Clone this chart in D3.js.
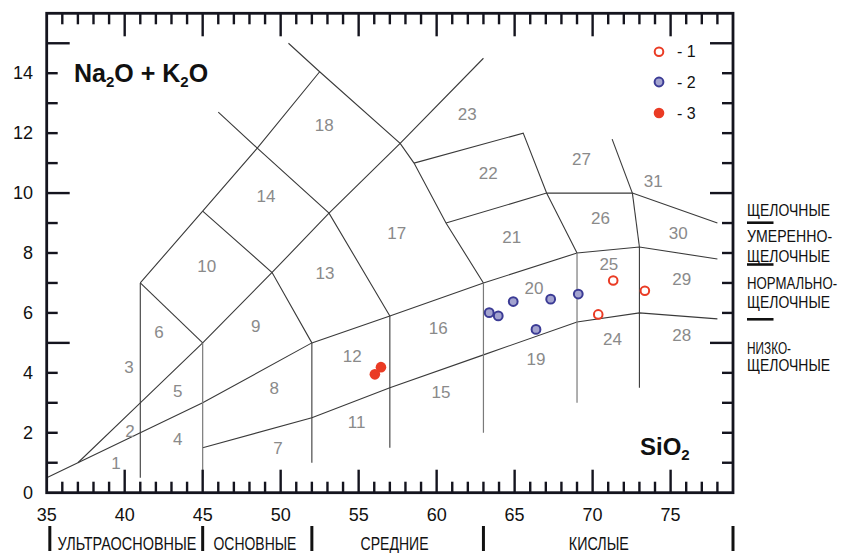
<!DOCTYPE html>
<html><head><meta charset="utf-8">
<script src="https://cdn.jsdelivr.net/npm/d3@7"></script>
<style>
html,body{margin:0;padding:0;background:#fff;}
svg{display:block;font-family:"Liberation Sans",Arial,sans-serif;}
</style></head>
<body><svg id="c" width="844" height="553"></svg>
<script>
// ---------------- data ----------------
const xDomain = [35, 79];
const yDomain = [0, 16];
const xTickLabels = [35, 40, 45, 50, 55, 60, 65, 70, 75];
const yTickLabels = [0, 2, 4, 6, 8, 10, 12, 14];

// classification field boundaries (SiO2, Na2O+K2O)
const boundaries = [
  [[35,0.5],[37,1],[41,2],[45,3],[52,5],[57,5.9],[63,7],[69,8],[73,8.2],[78,7.8]],
  [[37,1],[41,3],[45,5],[49.45,7.35],[53.1,9.33],[57.66,11.66],[63,14.5]],
  [[41,0.5],[41,7]],
  [[41,7],[45,9.4],[48.5,11.5],[52.5,14.05]],
  [[41,7],[45,5]],
  [[45,9.4],[49.45,7.35],[52,5]],
  [[46,12.7],[48.5,11.5],[53.1,9.33],[57,5.9]],
  [[50.5,15],[52.5,14.05],[57.66,11.66],[58.55,11],[60.6,9],[63,7]],
  [[45,1.5],[52,2.5],[57,3.5],[63,4.6],[69,5.7],[73,6],[78,5.8]],
  [[52,1],[52,5]],
  [[57,1.5],[57,5.9]],
  [[73,3.5],[73,8.2]],
  [[58.55,11],[65.55,12],[67.05,10],[69,8]],
  [[60.6,9],[67.05,10],[72.55,10],[78,9]],
  [[72.55,10],[73,8.2]],
  [[71.25,11.8],[72.55,10]]
];
const greyBoundaries = [
  [[45,0.5],[45,5]],
  [[63,2],[63,7]],
  [[69,3],[69,8]]
];

const fieldIds = ["1","2","3","4","5","6","7","8","9","10","11","12","13","14","15","16","17","18","19","20","21","22","23","24","25","26","27","28","29","30","31"];
const fieldSiO2 = [39.44,40.34,40.28,43.40,43.40,42.20,49.83,49.59,48.40,45.26,54.87,54.59,52.84,49.06,60.28,60.10,57.44,52.79,66.37,66.24,64.81,63.31,61.96,71.28,71.04,70.51,69.29,75.71,75.71,75.49,73.88];
const fieldAlk  = [0.99,2.04,4.17,1.76,3.37,5.34,1.49,3.48,5.54,7.54,2.34,4.56,7.32,9.88,3.35,5.49,8.66,12.24,4.43,6.82,8.52,10.66,12.61,5.10,7.60,9.16,11.13,5.26,7.12,8.66,10.40];

// samples
const series1 = [[71.32,7.08],[73.35,6.74],[70.36,5.95]];             // open red
const series2 = [[63.37,6.01],[63.95,5.90],[64.91,6.38],[67.31,6.46],[66.37,5.45],[69.08,6.63]]; // blue
const series3 = [[56.43,4.19],[56.04,3.95]];                          // filled red
const legendNames = ["- 1", "- 2", "- 3"];

const groupBounds = [35.2, 45, 52, 63, 79];
const groupNames = ["УЛЬТРАОСНОВНЫЕ", "ОСНОВНЫЕ", "СРЕДНИЕ", "КИСЛЫЕ"];
const groupCenters = [40.15, 48.35, 57.3, 70.4];

const alkTexts = ["ЩЕЛОЧНЫЕ", "УМЕРЕННО-", "ЩЕЛОЧНЫЕ", "НОРМАЛЬНО-", "ЩЕЛОЧНЫЕ", "НИЗКО-", "ЩЕЛОЧНЫЕ"];

// ---------------- drawing ----------------
const svg = d3.select("#c");
const M = {l: 46.7, r: 733, t: 13.3, b: 492.7};
const x = d3.scaleLinear().domain(xDomain).range([M.l, M.r]);
const y = d3.scaleLinear().domain(yDomain).range([M.b, M.t]);
const line = d3.line().x(d => x(d[0])).y(d => y(d[1]));

// boundaries
svg.append("g").selectAll("path").data(boundaries).join("path")
  .attr("d", line).attr("fill", "none").attr("stroke", "#3a3a3a").attr("stroke-width", 1.1);
svg.append("g").selectAll("path").data(greyBoundaries).join("path")
  .attr("d", line).attr("fill", "none").attr("stroke", "#7a7a7a").attr("stroke-width", 1.2);

// field labels
svg.append("g").selectAll("text").data(fieldIds).join("text")
  .attr("x", (d,i) => x(fieldSiO2[i])).attr("y", (d,i) => y(fieldAlk[i]))
  .attr("text-anchor", "middle").attr("dominant-baseline", "central")
  .attr("font-size", 17).attr("fill", "#8a8a8a").text(d => d);

// axes: ticks every 1 unit, major every 5
const tickW = 2.4, axisCol = "#14141e";
const xAll = d3.range(35, 80, 1);
const yAll = d3.range(0, 17, 1);
function ticks(g, vals, isX, pos, dir) {
  g.selectAll("line").data(vals).join("line")
    .attr("x1", d => isX ? x(d) : pos)
    .attr("x2", d => isX ? x(d) : pos + dir * (d % 5 === 0 ? 23 : 11))
    .attr("y1", d => isX ? pos : y(d))
    .attr("y2", d => isX ? pos + dir * (d % 5 === 0 ? 23 : 11) : y(d))
    .attr("stroke", axisCol).attr("stroke-width", tickW);
}
const ax = svg.append("g");
ticks(ax.append("g"), xAll.filter(d => d > 35 && d < 79), true, M.b, -1);
ticks(ax.append("g"), xAll.filter(d => d > 35 && d < 79), true, M.t, 1);
ticks(ax.append("g"), yAll.filter(d => d > 0 && d < 16), false, M.l, 1);
ticks(ax.append("g"), yAll.filter(d => d > 0 && d < 16), false, M.r, -1);
ax.append("rect").attr("x", M.l).attr("y", M.t).attr("width", M.r - M.l).attr("height", M.b - M.t)
  .attr("fill", "none").attr("stroke", axisCol).attr("stroke-width", 2.8);

// tick labels
svg.append("g").selectAll("text").data(xTickLabels).join("text")
  .attr("x", d => x(d)).attr("y", 521).attr("text-anchor", "middle")
  .attr("font-size", 18).attr("fill", "#111").text(d => d);
svg.append("g").selectAll("text").data(yTickLabels).join("text")
  .attr("x", 33).attr("y", d => y(d) + 6).attr("text-anchor", "end")
  .attr("font-size", 18).attr("fill", "#111").text(d => d);

// axis titles
const t1 = svg.append("text").attr("x", 74).attr("y", 82).attr("font-size", 25).attr("font-weight", "bold").attr("fill", "#111");
t1.append("tspan").text("Na");
t1.append("tspan").attr("font-size", 15).attr("dy", 5).text("2");
t1.append("tspan").attr("dy", -5).text("O + K");
t1.append("tspan").attr("font-size", 15).attr("dy", 5).text("2");
t1.append("tspan").attr("dy", -5).text("O");
const t2 = svg.append("text").attr("x", 640).attr("y", 455).attr("font-size", 24).attr("font-weight", "bold").attr("fill", "#111");
t2.append("tspan").text("SiO");
t2.append("tspan").attr("font-size", 15).attr("dy", 5).text("2");

// samples
const RED = "#ea3b24", BLUE_S = "#3b3b95", BLUE_F = "#a3a3cf";
svg.append("g").selectAll("circle").data(series1).join("circle")
  .attr("cx", d => x(d[0])).attr("cy", d => y(d[1])).attr("r", 4.3)
  .attr("fill", "#fff").attr("stroke", RED).attr("stroke-width", 2);
svg.append("g").selectAll("circle").data(series2).join("circle")
  .attr("cx", d => x(d[0])).attr("cy", d => y(d[1])).attr("r", 4.4)
  .attr("fill", BLUE_F).attr("stroke", BLUE_S).attr("stroke-width", 2);
svg.append("g").selectAll("circle").data(series3).join("circle")
  .attr("cx", d => x(d[0])).attr("cy", d => y(d[1])).attr("r", 5.3)
  .attr("fill", RED).attr("stroke", "none");

// legend
const lg = svg.append("g");
const legendY = [51.7, 82, 113];
const legendStyle = [
  {f: "#fff", s: RED, r: 4.3, w: 2},
  {f: BLUE_F, s: BLUE_S, r: 4.4, w: 2},
  {f: RED, s: "none", r: 5.3, w: 0}
];
legendNames.forEach((n, i) => {
  lg.append("circle").attr("cx", 659).attr("cy", legendY[i]).attr("r", legendStyle[i].r)
    .attr("fill", legendStyle[i].f).attr("stroke", legendStyle[i].s).attr("stroke-width", legendStyle[i].w);
  lg.append("text").attr("x", 677).attr("y", legendY[i] + 5.5).attr("font-size", 16)
    .attr("fill", "#111").text(n);
});

// condensed text helper: scale horizontally to a target width
function condensed(g, txt, px, py, size, width, anchor) {
  const t = g.append("text").attr("font-size", size).attr("fill", "#111").text(txt);
  const w = t.node().getComputedTextLength();
  const s = width / w;
  const x0 = anchor === "middle" ? px - width / 2 : px;
  t.attr("transform", `translate(${x0},${py}) scale(${s},1)`);
}

// bottom group separators and names
svg.append("g").selectAll("line").data(groupBounds).join("line")
  .attr("x1", d => x(d)).attr("x2", d => x(d)).attr("y1", 526).attr("y2", 551)
  .attr("stroke", "#111").attr("stroke-width", 3);
const gWidths = [139, 83, 68, 60];
const gb = svg.append("g");
groupNames.forEach((n, i) => condensed(gb, n, x(groupCenters[i]), 549.5, 17.5, gWidths[i], "middle"));

// right side alkalinity labels
const alkBase = [215.5, 242, 261.5, 288.5, 307.5, 353.5, 370.5];
const alkW = [83, 85, 83, 90, 83, 44, 83];
const rg = svg.append("g");
alkTexts.forEach((n, i) => condensed(rg, n, 747, alkBase[i], 16.3, alkW[i], "start"));
const sepY = [222.7, 264.5, 319.3];
svg.append("g").selectAll("line").data(sepY).join("line")
  .attr("x1", 747).attr("x2", 773.5).attr("y1", d => d).attr("y2", d => d)
  .attr("stroke", "#111").attr("stroke-width", 2.6);
</script></body></html>
